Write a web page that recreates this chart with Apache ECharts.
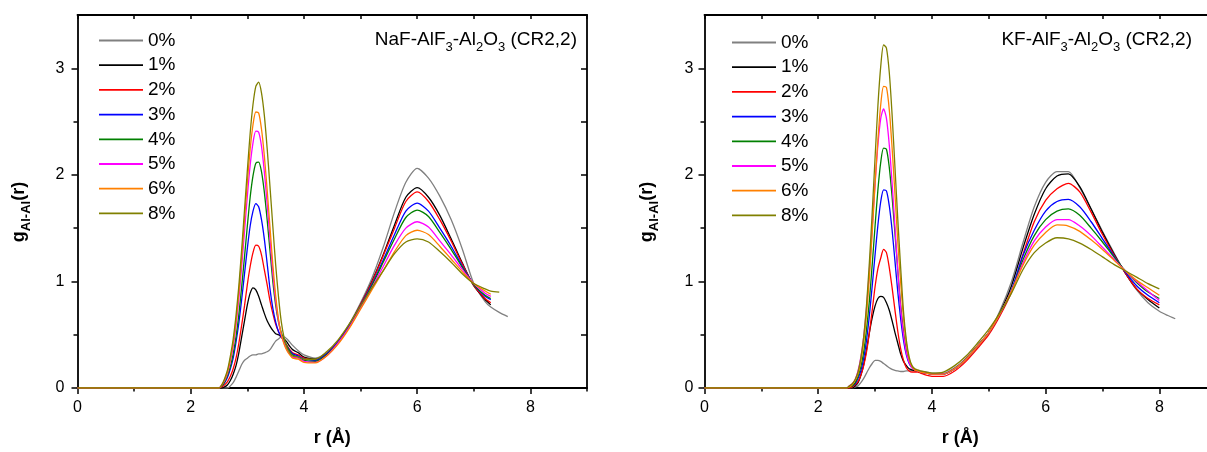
<!DOCTYPE html>
<html><head><meta charset="utf-8">
<script src="https://cdn.jsdelivr.net/npm/echarts@6/dist/echarts.min.js"></script>
<style>html,body{margin:0;padding:0;overflow:hidden;background:#fff}#c{width:1220px;height:452px}</style>
</head><body><div id="c"></div>
<script>
// ---------- data ----------
const names = ['0%', '1%', '2%', '3%', '4%', '5%', '6%', '8%'];
const colors = ['#808080', '#000000', '#FF0000', '#0000FF', '#008000', '#FF00FF', '#FF8000', '#808000'];

// NaF-AlF3-Al2O3 panel: r (Å)
const rL = [0, 2.5, 2.55, 2.6, 2.65, 2.7, 2.75, 2.8, 2.85, 2.9, 2.95, 3.0, 3.05, 3.1, 3.15, 3.2, 3.25, 3.3, 3.35, 3.4, 3.45, 3.5, 3.55, 3.6, 3.65, 3.7, 3.75, 3.8, 3.9, 4.0, 4.2, 4.4, 4.6, 4.8, 5.0, 5.2, 5.4, 5.6, 5.8, 6.0, 6.2, 6.4, 6.6, 6.8, 7.0, 7.2, 7.3, 7.45, 7.6];
const naf0 = [0, 0, 0, 0, 0, 0.02, 0.05, 0.10, 0.16, 0.22, 0.26, 0.28, 0.30, 0.31, 0.31, 0.32, 0.32, 0.33, 0.34, 0.36, 0.40, 0.44, 0.46, 0.48, 0.48, 0.46, 0.43, 0.40, 0.35, 0.31, 0.28, 0.33, 0.44, 0.60, 0.80, 1.03, 1.32, 1.65, 1.93, 2.06, 1.97, 1.80, 1.58, 1.30, 0.98, 0.81, 0.76, 0.71, 0.67];
const naf1 = [0, 0, 0, 0.01, 0.03, 0.07, 0.13, 0.21, 0.33, 0.48, 0.63, 0.78, 0.89, 0.94, 0.92, 0.86, 0.78, 0.70, 0.63, 0.58, 0.54, 0.51, 0.50, 0.48, 0.46, 0.43, 0.39, 0.36, 0.33, 0.29, 0.27, 0.32, 0.43, 0.59, 0.78, 1.00, 1.25, 1.53, 1.79, 1.88, 1.79, 1.62, 1.40, 1.17, 0.96, 0.83, 0.78, null, null];
const naf2 = [0, 0, 0.01, 0.03, 0.06, 0.11, 0.18, 0.28, 0.42, 0.59, 0.77, 0.97, 1.14, 1.27, 1.34, 1.33, 1.25, 1.11, 0.97, 0.82, 0.70, 0.60, 0.53, 0.48, 0.44, 0.40, 0.36, 0.33, 0.31, 0.28, 0.26, 0.32, 0.43, 0.58, 0.78, 0.99, 1.24, 1.50, 1.75, 1.84, 1.75, 1.58, 1.38, 1.16, 0.96, 0.84, 0.80, null, null];
const naf3 = [0, 0, 0.02, 0.05, 0.10, 0.18, 0.28, 0.43, 0.61, 0.83, 1.07, 1.31, 1.52, 1.66, 1.73, 1.70, 1.58, 1.40, 1.17, 0.93, 0.75, 0.62, 0.53, 0.48, 0.44, 0.39, 0.35, 0.32, 0.30, 0.27, 0.26, 0.32, 0.43, 0.58, 0.77, 0.97, 1.20, 1.44, 1.66, 1.735, 1.66, 1.50, 1.33, 1.14, 0.97, 0.86, 0.83, null, null];
const naf4 = [0, 0, 0.02, 0.06, 0.12, 0.20, 0.32, 0.48, 0.69, 0.95, 1.23, 1.52, 1.79, 1.99, 2.11, 2.12, 2.03, 1.84, 1.58, 1.29, 1.00, 0.78, 0.62, 0.52, 0.45, 0.39, 0.34, 0.31, 0.29, 0.26, 0.25, 0.31, 0.42, 0.57, 0.76, 0.96, 1.18, 1.40, 1.60, 1.67, 1.61, 1.46, 1.30, 1.13, 0.97, 0.87, 0.84, null, null];
const naf5 = [0, 0, 0.03, 0.07, 0.14, 0.25, 0.39, 0.59, 0.84, 1.14, 1.47, 1.80, 2.09, 2.30, 2.41, 2.40, 2.27, 2.03, 1.73, 1.40, 1.08, 0.82, 0.63, 0.50, 0.42, 0.36, 0.32, 0.29, 0.28, 0.25, 0.24, 0.30, 0.42, 0.57, 0.75, 0.94, 1.14, 1.34, 1.50, 1.56, 1.51, 1.38, 1.25, 1.11, 0.98, 0.89, 0.86, null, null];
const naf6 = [0, 0, 0.03, 0.08, 0.15, 0.27, 0.42, 0.63, 0.90, 1.22, 1.58, 1.93, 2.24, 2.47, 2.59, 2.58, 2.43, 2.18, 1.86, 1.51, 1.16, 0.87, 0.65, 0.50, 0.41, 0.35, 0.31, 0.28, 0.27, 0.24, 0.235, 0.30, 0.41, 0.56, 0.74, 0.92, 1.10, 1.28, 1.43, 1.48, 1.44, 1.33, 1.21, 1.09, 0.98, 0.91, 0.88, null, null];
const naf8 = [0, 0, 0.03, 0.09, 0.17, 0.30, 0.46, 0.68, 0.96, 1.30, 1.67, 2.04, 2.39, 2.66, 2.83, 2.87, 2.77, 2.56, 2.25, 1.89, 1.52, 1.16, 0.86, 0.62, 0.47, 0.38, 0.33, 0.30, 0.29, 0.27, 0.27, 0.34, 0.45, 0.60, 0.77, 0.94, 1.10, 1.26, 1.37, 1.40, 1.37, 1.28, 1.18, 1.07, 0.98, 0.93, 0.91, 0.90, null];

// KF-AlF3-Al2O3 panel: r (Å)
const rR = [0, 2.5, 2.55, 2.6, 2.65, 2.7, 2.75, 2.8, 2.85, 2.9, 2.95, 3.0, 3.05, 3.1, 3.15, 3.2, 3.25, 3.3, 3.35, 3.4, 3.45, 3.5, 3.55, 3.6, 3.65, 3.7, 3.75, 3.8, 3.9, 4.0, 4.2, 4.4, 4.6, 4.8, 5.0, 5.2, 5.4, 5.6, 5.8, 6.0, 6.2, 6.4, 6.6, 6.8, 7.0, 7.2, 7.4, 7.6, 7.8, 8.0, 8.15, 8.28];
const kf0 = [0, 0, 0, 0, 0.01, 0.02, 0.05, 0.09, 0.14, 0.19, 0.23, 0.26, 0.26, 0.25, 0.23, 0.21, 0.19, 0.175, 0.165, 0.16, 0.155, 0.155, 0.16, 0.16, 0.165, 0.165, 0.16, 0.155, 0.15, 0.14, 0.14, 0.19, 0.28, 0.40, 0.52, 0.73, 1.00, 1.36, 1.70, 1.93, 2.03, 2.03, 1.88, 1.68, 1.47, 1.27, 1.08, 0.92, 0.80, 0.72, 0.68, 0.65];
const kf1 = [0, 0, 0, 0, 0.02, 0.05, 0.12, 0.22, 0.36, 0.52, 0.66, 0.77, 0.84, 0.86, 0.85, 0.80, 0.73, 0.63, 0.52, 0.42, 0.32, 0.25, 0.21, 0.18, 0.17, 0.16, 0.16, 0.15, 0.14, 0.13, 0.13, 0.18, 0.27, 0.39, 0.52, 0.71, 0.96, 1.31, 1.63, 1.87, 1.99, 2.01, 1.89, 1.68, 1.46, 1.26, 1.08, 0.93, 0.83, 0.75, null, null];
const kf2 = [0, 0, 0, 0.01, 0.03, 0.06, 0.12, 0.21, 0.34, 0.52, 0.73, 0.95, 1.12, 1.22, 1.30, 1.27, 1.13, 0.94, 0.73, 0.53, 0.37, 0.26, 0.19, 0.16, 0.15, 0.15, 0.15, 0.14, 0.12, 0.11, 0.11, 0.16, 0.25, 0.37, 0.50, 0.68, 0.90, 1.25, 1.56, 1.76, 1.87, 1.92, 1.84, 1.65, 1.44, 1.25, 1.08, 0.93, 0.84, 0.78, null, null];
const kf3 = [0, 0, 0.01, 0.02, 0.04, 0.09, 0.16, 0.28, 0.45, 0.68, 0.96, 1.25, 1.53, 1.75, 1.86, 1.85, 1.71, 1.48, 1.19, 0.90, 0.65, 0.45, 0.31, 0.23, 0.19, 0.17, 0.16, 0.15, 0.14, 0.13, 0.13, 0.18, 0.27, 0.39, 0.52, 0.70, 0.92, 1.24, 1.48, 1.66, 1.75, 1.77, 1.70, 1.56, 1.40, 1.24, 1.09, 0.96, 0.87, 0.80, null, null];
const kf4 = [0, 0, 0.01, 0.02, 0.05, 0.11, 0.20, 0.34, 0.55, 0.82, 1.16, 1.52, 1.86, 2.12, 2.25, 2.24, 2.07, 1.79, 1.45, 1.10, 0.78, 0.53, 0.35, 0.25, 0.20, 0.17, 0.16, 0.15, 0.14, 0.13, 0.13, 0.18, 0.27, 0.39, 0.52, 0.70, 0.91, 1.20, 1.43, 1.58, 1.66, 1.68, 1.62, 1.50, 1.37, 1.23, 1.10, 0.99, 0.90, 0.84, null, null];
const kf5 = [0, 0, 0.02, 0.04, 0.08, 0.16, 0.29, 0.48, 0.75, 1.10, 1.51, 1.92, 2.28, 2.53, 2.62, 2.53, 2.28, 1.92, 1.51, 1.10, 0.75, 0.50, 0.33, 0.24, 0.19, 0.17, 0.16, 0.15, 0.14, 0.13, 0.13, 0.18, 0.27, 0.39, 0.52, 0.70, 0.91, 1.17, 1.38, 1.51, 1.58, 1.58, 1.52, 1.43, 1.32, 1.21, 1.10, 1.00, 0.91, 0.82, null, null];
const kf6 = [0, 0, 0.01, 0.03, 0.07, 0.13, 0.25, 0.43, 0.69, 1.04, 1.46, 1.91, 2.33, 2.66, 2.83, 2.82, 2.61, 2.25, 1.82, 1.37, 0.99, 0.66, 0.42, 0.27, 0.20, 0.17, 0.16, 0.15, 0.14, 0.13, 0.13, 0.18, 0.27, 0.39, 0.52, 0.70, 0.91, 1.15, 1.34, 1.46, 1.53, 1.52, 1.47, 1.39, 1.30, 1.20, 1.10, 1.01, 0.94, 0.87, null, null];
const kf8 = [0, 0, 0.02, 0.04, 0.08, 0.15, 0.28, 0.48, 0.78, 1.18, 1.65, 2.16, 2.65, 3.02, 3.22, 3.19, 2.96, 2.56, 2.07, 1.58, 1.13, 0.72, 0.45, 0.29, 0.21, 0.18, 0.17, 0.16, 0.15, 0.14, 0.15, 0.21, 0.30, 0.42, 0.55, 0.71, 0.89, 1.11, 1.27, 1.36, 1.41, 1.40, 1.36, 1.30, 1.23, 1.16, 1.10, 1.04, 0.98, 0.93, null, null];

// tick values
const xMajor = [0, 2, 4, 6, 8];
const xMinor = [1, 3, 5, 7, 9];
const xAll = [0, 1, 2, 3, 4, 5, 6, 7, 8, 9];
const yMajor = [0, 1, 2, 3];
const yMinor = [0.5, 1.5, 2.5];
const yAll = [0, 0.5, 1, 1.5, 2, 2.5, 3];

// ---------- chart ----------
const FONT = '"Liberation Sans", Arial, sans-serif';
const nafSets = [naf0, naf1, naf2, naf3, naf4, naf5, naf6, naf8];
const kfSets = [kf0, kf1, kf2, kf3, kf4, kf5, kf6, kf8];
function pairs(r, v) {
  const out = [];
  for (let i = 0; i < r.length; i++) if (v[i] !== null) out.push([r[i], v[i]]);
  return out;
}
const AX = { color: '#000', width: 1.8 };
const TK = { color: '#000', width: 1.5 };

function xAxes(g) {
  return [
    { type: 'value', gridIndex: g, min: 0, max: 9, position: 'bottom',
      axisLine: { show: true, onZero: false, lineStyle: AX },
      axisTick: { show: true, customValues: xMajor, length: 6, inside: false, lineStyle: TK },
      axisLabel: { show: true, customValues: xMajor, margin: 12, fontSize: 16, color: '#000', fontFamily: FONT },
      splitLine: { show: false },
      name: 'r (Å)', nameLocation: 'middle', nameGap: 41,
      nameTextStyle: { fontSize: 18, fontWeight: 'bold', color: '#000', fontFamily: FONT } },
    { type: 'value', gridIndex: g, min: 0, max: 9, position: 'bottom',
      axisLine: { show: false, onZero: false },
      axisTick: { show: true, customValues: xMinor, length: 3.5, inside: false, lineStyle: TK },
      axisLabel: { show: false }, splitLine: { show: false } },
    { type: 'value', gridIndex: g, min: 0, max: 9, position: 'top',
      axisLine: { show: true, onZero: false, lineStyle: AX },
      axisTick: { show: true, customValues: xAll, length: 4, inside: true, lineStyle: TK },
      axisLabel: { show: false }, splitLine: { show: false } }
  ];
}
function yAxes(g, labelMargin, nameGap) {
  return [
    { type: 'value', gridIndex: g, min: 0, max: 3.5, position: 'left',
      axisLine: { show: true, onZero: false, lineStyle: AX },
      axisTick: { show: true, customValues: yMajor, length: 6, inside: false, lineStyle: TK },
      axisLabel: { show: true, customValues: yMajor, margin: labelMargin, fontSize: 16, color: '#000', fontFamily: FONT },
      splitLine: { show: false },
      name: '{g|g}{s|Al-Al}{g|(r)}', nameLocation: 'middle', nameGap: nameGap,
      nameTextStyle: {
        padding: [0, 21, 0, 0],
        rich: {
          g: { fontSize: 18, fontWeight: 'bold', color: '#000', fontFamily: FONT },
          s: { fontSize: 13, fontWeight: 'bold', color: '#000', fontFamily: FONT, verticalAlign: 'bottom', lineHeight: 26 }
        }
      } },
    { type: 'value', gridIndex: g, min: 0, max: 3.5, position: 'left',
      axisLine: { show: false, onZero: false },
      axisTick: { show: true, customValues: yMinor, length: 4, inside: false, lineStyle: TK },
      axisLabel: { show: false }, splitLine: { show: false } },
    { type: 'value', gridIndex: g, min: 0, max: 3.5, position: 'right',
      axisLine: { show: true, onZero: false, lineStyle: AX },
      axisTick: { show: true, customValues: yAll, length: 6, inside: true, lineStyle: TK },
      axisLabel: { show: false }, splitLine: { show: false } }
  ];
}

const series = [];
nafSets.forEach((v, i) => series.push({
  type: 'line', name: names[i], xAxisIndex: 0, yAxisIndex: 0, data: pairs(rL, v),
  symbol: 'none', showSymbol: false, smooth: 0.25, z: 2 + i,
  lineStyle: { width: 1.3, color: colors[i] }, itemStyle: { color: colors[i] }
}));
kfSets.forEach((v, i) => series.push({
  type: 'line', name: names[i], xAxisIndex: 3, yAxisIndex: 3, data: pairs(rR, v),
  symbol: 'none', showSymbol: false, smooth: 0.25, z: 2 + i,
  lineStyle: { width: 1.3, color: colors[i] }, itemStyle: { color: colors[i] }
}));

const legendBase = {
  data: names, orient: 'vertical', padding: 0, itemWidth: 44, itemHeight: 1.8, itemGap: 5.7,
  icon: 'rect',
  textStyle: { fontSize: 19, lineHeight: 19, color: '#000', fontFamily: FONT }
};
const titleStyle = {
  fontSize: 19, fontWeight: 'normal', color: '#000', fontFamily: FONT,
  rich: { s: { fontSize: 13, fontWeight: 'normal', color: '#000', fontFamily: FONT, verticalAlign: 'bottom', lineHeight: 28 } }
};

const W = 1220;
const option = {
  animation: false,
  backgroundColor: '#fff',
  title: [
    { text: 'NaF-AlF{s|3}-Al{s|2}O{s|3} (CR2,2)', right: W - 577, top: 26, padding: 0, textStyle: titleStyle },
    { text: 'KF-AlF{s|3}-Al{s|2}O{s|3} (CR2,2)', right: W - 1192, top: 26, padding: 0, textStyle: titleStyle }
  ],
  legend: [
    Object.assign({ left: 99, top: 31 }, legendBase),
    Object.assign({ left: 732, top: 33 }, legendBase)
  ],
  grid: [
    { left: 77.5, top: 15, width: 509.5, height: 375 },
    { left: 704.5, top: 15, width: 511.7, height: 375 }
  ],
  xAxis: [...xAxes(0), ...xAxes(1)],
  yAxis: [...yAxes(0, 13, 45), ...yAxes(1, 11, 44)],
  series: series
};
const chart = echarts.init(document.getElementById('c'), null, { renderer: 'canvas' });
chart.setOption(option);
</script></body></html>
